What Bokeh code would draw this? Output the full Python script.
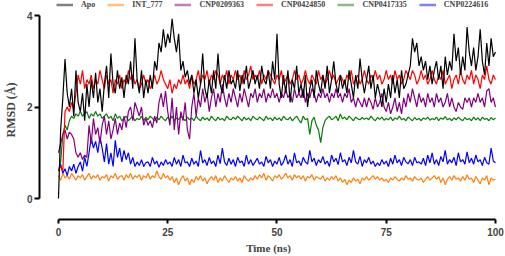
import numpy as np
from bokeh.plotting import figure
from bokeh.models import Range1d, FixedTicker, Legend, LegendItem
from bokeh.embed import file_html
from bokeh.resources import INLINE

series_names = ["Apo", "INT_777", "CNP0209363", "CNP0424850", "CNP0417335", "CNP0224616"]
series_colors = ["#000000", "#FF7F0E", "#800080", "#FF0000", "#0A7A0A", "#0000FF"]

apo = [0.0, 1.5, 2.2, 3.05, 2.3, 2.0, 2.4, 1.8, 2.8, 2.1, 1.9,
       2.3, 1.7, 2.5, 2.0, 2.6, 2.2, 2.75, 2.1, 2.4, 1.9,
       2.5, 2.9, 2.2, 3.17, 2.5, 2.3, 2.8, 2.4, 2.65, 2.2,
       2.7, 2.5, 3.0, 2.4, 3.5, 2.6, 2.3, 2.8, 2.2, 2.6,
       2.3, 2.7, 2.4, 3.0, 2.8, 3.4, 3.2, 3.7, 3.3, 3.6,
       3.4, 3.93, 3.5, 3.2, 3.6, 2.8, 3.0, 2.65, 2.8, 2.5,
       2.7, 2.3, 2.6, 2.2, 2.5, 3.17, 2.4, 2.2, 2.6, 2.3,
       2.8, 2.4, 3.17, 2.5, 2.3, 2.7, 2.4, 2.8, 2.5, 2.6,
       2.4, 2.8, 2.35, 2.7, 2.5, 2.9, 2.4, 2.6, 2.8, 2.5,
       2.7, 2.4, 2.9, 2.6, 2.5, 2.8, 2.4, 3.0, 2.6, 3.6,
       2.5, 2.2, 2.7, 2.3, 2.8, 2.1, 2.6, 2.4, 2.9, 2.3,
       2.5, 2.2, 2.7, 2.0, 2.4, 2.6, 2.2, 2.8, 2.5, 2.3,
       2.7, 2.4, 2.9, 2.3, 2.6, 3.0, 2.5, 2.3, 2.7, 2.4,
       2.6, 2.3, 2.8, 2.5, 2.2, 2.7, 2.4, 3.06, 2.6, 2.3,
       2.6, 2.9, 2.4, 2.7, 2.2, 2.5, 2.3, 2.0, 2.4, 2.1,
       2.5, 2.2, 2.7, 2.3, 2.6, 2.2, 2.8, 2.4, 2.5, 2.7,
       2.9, 3.5, 3.2, 3.4, 2.9, 3.1, 2.8, 3.0, 2.6, 2.9,
       2.5, 2.8, 3.0, 2.6, 2.9, 2.4, 3.1, 2.7, 3.0, 2.8,
       3.6, 3.0, 3.3, 2.7, 3.1, 2.8, 3.75, 3.2, 2.9, 3.3,
       2.8, 3.1, 3.7, 3.0, 2.7, 3.4, 2.9, 3.5, 3.1, 3.2]

int_777 = [0.5, 0.4, 0.55, 0.45, 0.5, 0.42, 0.55, 0.48, 0.4, 0.5, 0.45,
           0.52, 0.4, 0.48, 0.55, 0.42, 0.5, 0.45, 0.52, 0.4, 0.48,
           0.45, 0.52, 0.38, 0.5, 0.45, 0.55, 0.42, 0.48, 0.5, 0.4,
           0.52, 0.45, 0.55, 0.42, 0.5, 0.46, 0.52, 0.4, 0.5, 0.45,
           0.55, 0.42, 0.5, 0.45, 0.6, 0.48, 0.42, 0.55, 0.45, 0.5,
           0.4, 0.48, 0.35, 0.45, 0.3, 0.42, 0.5, 0.38, 0.45, 0.3,
           0.42, 0.35, 0.48, 0.4, 0.5, 0.38, 0.45, 0.32, 0.42, 0.48,
           0.4, 0.5, 0.35, 0.45, 0.38, 0.5, 0.42, 0.35, 0.45, 0.4,
           0.48, 0.38, 0.45, 0.35, 0.5, 0.42, 0.38, 0.45, 0.4, 0.5,
           0.42, 0.52, 0.45, 0.55, 0.4, 0.5, 0.45, 0.38, 0.5, 0.45,
           0.52, 0.42, 0.48, 0.55, 0.45, 0.5, 0.4, 0.52, 0.45, 0.5,
           0.42, 0.5, 0.38, 0.48, 0.45, 0.52, 0.4, 0.48, 0.45, 0.42,
           0.5, 0.38, 0.45, 0.4, 0.48, 0.42, 0.5, 0.38, 0.45, 0.35,
           0.42, 0.3, 0.4, 0.35, 0.45, 0.38, 0.42, 0.32, 0.45, 0.4,
           0.48, 0.4, 0.45, 0.5, 0.42, 0.48, 0.4, 0.45, 0.38, 0.42,
           0.35, 0.45, 0.4, 0.48, 0.42, 0.38, 0.45, 0.4, 0.5, 0.42,
           0.45, 0.38, 0.48, 0.42, 0.4, 0.45, 0.35, 0.42, 0.48, 0.4,
           0.45, 0.5, 0.42, 0.48, 0.35, 0.45, 0.3, 0.42, 0.48, 0.4,
           0.5, 0.42, 0.45, 0.38, 0.48, 0.4, 0.52, 0.42, 0.45, 0.35,
           0.48, 0.4, 0.32, 0.45, 0.4, 0.5, 0.3, 0.45, 0.4, 0.42]

cnp0209363 = [1.0, 1.2, 1.4, 1.5, 1.3, 1.45, 1.4, 1.3, 1.0, 0.9, 1.0,
              0.85, 0.95, 0.9, 1.6, 1.2, 1.75, 1.4, 1.55, 1.2, 1.6,
              1.8, 1.4, 1.7, 1.3, 1.5, 1.75, 1.4, 1.65, 1.5, 1.8,
              1.55, 1.9, 2.0, 1.7, 2.1, 1.95, 1.8, 2.0, 1.6, 1.75,
              1.6, 1.7, 1.55, 1.8, 1.65, 2.1, 2.3, 2.0, 2.35, 1.9,
              1.6, 2.2, 1.5, 2.0, 1.4, 1.9, 1.7, 2.1, 1.5, 1.3,
              2.0, 2.3, 1.8, 2.2, 2.0, 2.4, 2.1, 2.3, 1.9, 2.2,
              2.4, 2.0, 2.3, 2.1, 2.5, 2.2, 2.0, 2.3, 2.1, 2.4,
              2.2, 2.0, 2.3, 2.1, 2.4, 2.2, 2.0, 2.3, 2.2, 2.4,
              2.1, 2.3, 2.2, 2.4, 2.1, 2.3, 2.2, 2.4, 2.2, 2.3,
              2.1, 2.3, 2.2, 2.4, 2.2, 2.3, 2.1, 2.4, 2.2, 2.3,
              2.2, 2.4, 2.1, 2.3, 2.2, 2.4, 2.3, 2.1, 2.3, 2.2,
              2.4, 2.2, 2.3, 2.1, 2.3, 2.2, 2.4, 2.2, 2.3, 2.1,
              2.3, 2.2, 2.4, 2.1, 2.2, 2.0, 2.2, 2.1, 2.0, 2.2,
              2.0, 2.2, 2.1, 1.95, 2.2, 2.0, 2.1, 2.3, 2.0, 1.9,
              2.1, 1.85, 2.0, 2.2, 1.9, 2.1, 1.85, 2.2, 2.0, 2.3,
              2.1, 2.4, 2.2, 2.0, 2.3, 2.1, 2.2, 2.0, 2.3, 2.1,
              2.2, 2.0, 2.3, 2.1, 2.2, 2.0, 2.1, 2.3, 2.0, 2.2,
              2.0, 1.9, 2.1, 2.0, 1.95, 2.2, 2.1, 2.2, 2.0, 2.2,
              2.1, 2.3, 2.1, 2.2, 2.0, 2.35, 2.4, 2.1, 2.2, 2.0]

cnp0424850 = [0.6, 0.7, 0.6, 1.9, 2.0, 1.9, 2.1, 1.95, 2.3, 2.7, 2.5,
              2.8, 2.4, 2.6, 2.5, 2.7, 2.4, 2.6, 2.5, 2.8, 2.6,
              2.4, 2.7, 2.5, 2.6, 2.3, 2.6, 2.5, 2.7, 2.4, 2.6,
              2.5, 2.8, 2.6, 2.7, 2.5, 2.6, 2.4, 2.5, 2.7, 2.5,
              2.6, 2.4, 2.5, 2.7, 2.5, 2.6, 2.8, 2.6, 2.5, 2.4,
              2.6, 2.3, 2.5, 2.4, 2.6, 2.5, 2.7, 2.5, 2.6, 2.4,
              2.7, 2.5, 2.6, 2.8, 2.5, 2.7, 2.6, 2.8, 2.5, 2.7,
              2.6, 2.8, 2.7, 2.5, 2.7, 2.6, 2.8, 2.5, 2.7, 2.6,
              2.8, 2.6, 2.7, 2.5, 2.8, 2.6, 2.7, 2.9, 2.6, 2.7,
              2.6, 2.8, 2.5, 2.7, 2.6, 2.8, 2.7, 2.6, 2.5, 2.7,
              2.6, 2.8, 2.5, 2.6, 2.7, 2.5, 2.6, 2.8, 2.6, 2.7,
              2.5, 2.6, 2.8, 2.6, 2.5, 2.7, 2.6, 2.5, 2.8, 2.6,
              2.7, 2.5, 2.6, 2.8, 2.6, 2.7, 2.5, 2.6, 2.7, 2.6,
              2.5, 2.7, 2.6, 2.8, 2.5, 2.6, 2.7, 2.5, 2.6, 2.8,
              2.6, 2.5, 2.7, 2.6, 2.8, 2.6, 2.7, 2.5, 2.6, 2.8,
              2.6, 2.7, 2.5, 2.8, 2.6, 2.7, 2.5, 2.6, 2.8, 2.7,
              2.6, 2.8, 2.7, 2.5, 2.6, 2.8, 2.6, 2.7, 2.5, 2.6,
              2.8, 2.6, 2.5, 2.7, 2.6, 2.8, 2.5, 2.6, 2.7, 2.4,
              2.6, 2.7, 2.5, 2.8, 2.6, 2.5, 2.7, 2.6, 2.8, 2.5,
              2.7, 2.6, 2.4, 2.7, 2.6, 2.9, 2.6, 2.5, 2.7, 2.6]

cnp0417335 = [0.6, 0.8, 1.4, 1.6, 1.5, 1.7, 1.8, 1.75, 1.85, 1.8, 1.9,
              1.8, 1.85, 1.9, 1.75, 1.85, 1.8, 1.9, 1.8, 1.85, 1.75,
              1.8, 1.85, 1.75, 1.8, 1.7, 1.85, 1.75, 1.8, 1.7, 1.75,
              1.8, 1.7, 1.75, 1.8, 1.7, 1.75, 1.72, 1.8, 1.7, 1.78,
              1.72, 1.8, 1.75, 1.7, 1.78, 1.72, 1.8, 1.74, 1.7, 1.78,
              1.72, 1.8, 1.7, 1.76, 1.72, 1.8, 1.75, 1.7, 1.78, 1.72,
              1.76, 1.7, 1.8, 1.74, 1.7, 1.78, 1.72, 1.76, 1.7, 1.8,
              1.74, 1.7, 1.78, 1.72, 1.75, 1.7, 1.8, 1.74, 1.72, 1.78,
              1.73, 1.8, 1.75, 1.7, 1.78, 1.72, 1.76, 1.7, 1.8, 1.75,
              1.72, 1.78, 1.74, 1.7, 1.8, 1.73, 1.76, 1.7, 1.78, 1.72,
              1.76, 1.7, 1.8, 1.74, 1.72, 1.78, 1.7, 1.75, 1.8, 1.72,
              1.65, 1.8, 1.72, 1.75, 1.4, 1.7, 1.78, 1.6, 1.5, 1.22,
              1.55, 1.7, 1.76, 1.8, 1.72, 1.75, 1.8, 1.7, 1.85, 1.74,
              1.78, 1.72, 1.8, 1.75, 1.7, 1.78, 1.74, 1.72, 1.77, 1.73,
              1.76, 1.72, 1.8, 1.74, 1.7, 1.77, 1.73, 1.78, 1.71, 1.75,
              1.72, 1.78, 1.7, 1.76, 1.73, 1.8, 1.72, 1.75, 1.7, 1.78,
              1.74, 1.7, 1.77, 1.72, 1.75, 1.7, 1.76, 1.73, 1.78, 1.71,
              1.75, 1.72, 1.78, 1.7, 1.76, 1.73, 1.79, 1.72, 1.75, 1.7,
              1.76, 1.72, 1.78, 1.73, 1.7, 1.77, 1.72, 1.75, 1.7, 1.78,
              1.72, 1.76, 1.7, 1.78, 1.73, 1.75, 1.7, 1.77, 1.72, 1.76]

cnp0224616 = [0.6, 0.75, 0.55, 0.65, 0.5, 0.7, 0.6, 0.75, 0.55, 0.7, 0.8,
              0.6, 0.9, 0.7, 1.0, 1.33, 1.1, 1.25, 1.0, 1.35, 1.1,
              0.8, 1.2, 0.75, 1.0, 0.7, 1.27, 0.9, 1.1, 0.8, 1.05,
              0.85, 1.0, 0.75, 0.9, 0.7, 0.8, 0.72, 0.85, 0.7, 0.78,
              0.8, 0.7, 0.9, 0.75, 0.82, 0.68, 0.8, 0.72, 0.85, 0.75,
              0.8, 0.7, 0.9, 0.75, 0.85, 0.7, 0.95, 0.78, 0.8, 0.7,
              0.88, 0.75, 0.82, 0.7, 1.05, 0.78, 0.85, 0.72, 0.9, 0.76,
              0.82, 0.7, 0.95, 0.76, 1.1, 0.8, 0.72, 0.88, 0.75, 0.85,
              0.7, 0.9, 0.78, 0.82, 0.7, 0.95, 0.75, 0.85, 0.72, 0.8,
              0.88, 0.75, 0.8, 0.7, 0.92, 0.78, 0.85, 0.7, 0.82, 0.75,
              0.9, 0.72, 0.8, 0.95, 0.75, 0.85, 0.7, 1.0, 0.78, 0.82,
              0.72, 0.9, 0.8, 0.75, 1.05, 0.8, 0.88, 0.72, 0.85, 0.78,
              0.92, 0.75, 0.82, 0.7, 0.95, 0.8, 0.88, 0.74, 1.0, 0.8,
              0.85, 0.72, 0.9, 0.78, 1.05, 0.8, 0.75, 0.92, 0.7, 0.85,
              0.78, 0.9, 0.75, 0.82, 0.7, 0.78, 0.72, 0.85, 0.75, 0.82,
              0.7, 0.88, 0.75, 0.95, 0.78, 0.85, 0.72, 0.9, 0.8, 0.76,
              0.85, 0.72, 0.9, 0.78, 0.8, 0.75, 0.88, 0.72, 0.95, 0.78,
              1.0, 0.75, 0.85, 0.72, 0.92, 0.8, 1.05, 0.75, 0.85, 0.78,
              0.9, 0.72, 1.0, 0.8, 0.85, 0.75, 1.02, 0.78, 0.88, 0.75,
              0.95, 0.8, 0.85, 0.72, 0.9, 0.78, 0.75, 1.1, 0.82, 0.78]

x_ticks = [0, 25, 50, 75, 100]
y_ticks = [0, 2, 4]

series_values = [apo, int_777, cnp0209363, cnp0424850, cnp0417335, cnp0224616]
time_ns = np.linspace(0, 100, len(apo))

p = figure(width=505, height=256, output_backend="svg", toolbar_location=None,
           x_range=Range1d(-4.34, 100.46), y_range=Range1d(-0.459, 4.328),
           min_border_left=38, min_border_right=8, min_border_top=0, min_border_bottom=37)
p.outline_line_color = None
p.grid.visible = False
p.background_fill_color = "white"

draw_order = [1, 5, 4, 2, 3, 0]
for i in draw_order:
    p.line(time_ns, series_values[i], line_color=series_colors[i], line_width=1.2)

items = []
for i, name in enumerate(series_names):
    r = p.line([-100, -90], [-100, -100], line_color=series_colors[i], line_alpha=0.5, line_width=2.5)
    items.append(LegendItem(label=name, renderers=[r]))

legend = Legend(items=items, orientation="horizontal", location=(17, 210),
                padding=0, margin=0, spacing=12, glyph_width=17, glyph_height=9,
                label_height=9, label_width=10, label_standoff=8,
                label_text_font="Liberation Serif", label_text_font_style="bold",
                label_text_font_size="8px", border_line_color=None,
                background_fill_alpha=0)
p.add_layout(legend)

for ax in (p.xaxis[0], p.yaxis[0]):
    ax.axis_line_width = 2
    ax.major_tick_line_width = 2
    ax.minor_tick_line_color = None
    ax.major_label_text_font = "Liberation Sans"
    ax.major_label_text_font_style = "bold"
    ax.major_label_text_font_size = "10px"
    ax.axis_label_text_font = "Liberation Serif"
    ax.axis_label_text_font_style = "bold"
    ax.major_tick_in = 0

p.xaxis.axis_label_text_font_size = "11px"
p.yaxis.axis_label_text_font_size = "12px"
p.xaxis.ticker = FixedTicker(ticks=x_ticks)
p.yaxis.ticker = FixedTicker(ticks=y_ticks)
p.xaxis.bounds = (0, 100)
p.yaxis.bounds = (0, 4)
p.xaxis.major_tick_out = 4
p.yaxis.major_tick_out = 5
p.xaxis.major_label_standoff = 4
p.yaxis.major_label_standoff = 2
p.xaxis.axis_label = "Time (ns)"
p.yaxis.axis_label = "RMSD (Å)"
p.xaxis.axis_label_standoff = 3
p.yaxis.axis_label_standoff = 6

open("out.html", "w").write(file_html(p, INLINE))
